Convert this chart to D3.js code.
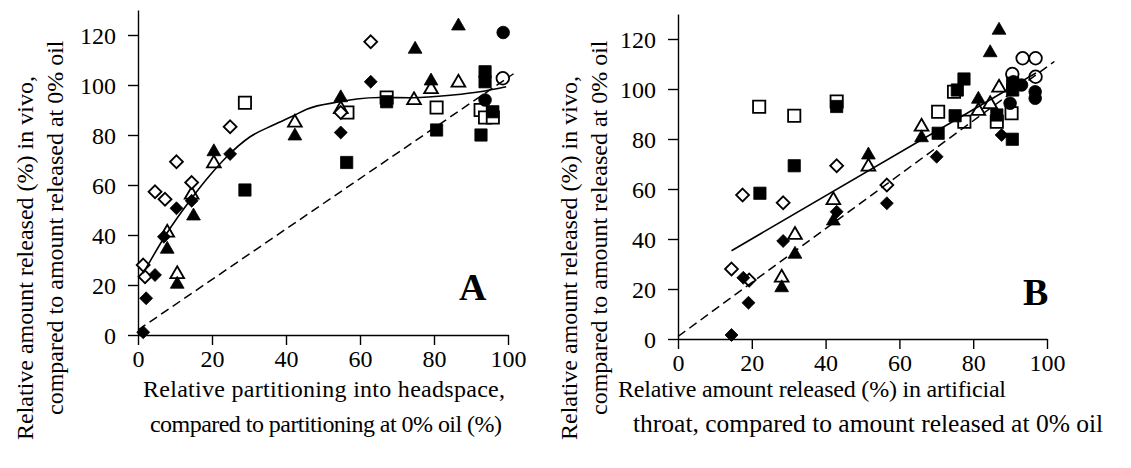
<!DOCTYPE html>
<html><head><meta charset="utf-8">
<script src="https://cdn.jsdelivr.net/npm/d3@7"></script>
<style>body{margin:0;background:#fff}svg{display:block}text{font-family:"Liberation Serif","Times New Roman",serif;fill:#000}</style>
</head><body>
<script>
// ---------- data ----------
const xTicks = [0, 20, 40, 60, 80, 100];
const yTicks = [0, 20, 40, 60, 80, 100, 120];

// Panel A
const aOpenDiamond   = [[62.9,117.3],[24.9,83.3],[10.4,69.3],[14.5,61],[4.6,57.3],[7.3,54.3],[1.4,28],[1.9,23.3],[54.8,89]];
const aFilledDiamond = [[62.9,101.3],[24.9,72.4],[54.8,81],[10.4,50.7],[14.5,53.7],[7,39.3],[4.6,24],[2.2,14.7],[1.4,1.1]];
const aOpenTriangle  = [[20.5,69],[42.4,85.3],[54.8,90.7],[14.5,56.5],[7.9,41.3],[10.6,24.7],[79.2,98.7],[86.6,101.3],[74.6,94.3]];
const aFilledTriangle= [[20.5,73.7],[42.4,80],[54.8,95.3],[15,48],[7.9,34.7],[10.6,20.7],[86.6,124],[74.9,114.7],[79.2,102]];
const aOpenSquare    = [[28.9,92.9],[56.6,89],[67.2,95],[80.7,91],[92.6,90],[93.8,87],[95.9,87]];
const aFilledSquare  = [[56.4,69],[28.9,58],[67.2,93.3],[80.7,82],[92.7,80],[93.8,105.3],[93.8,101.3],[95.9,89.3]];
const aOpenCircle    = [[98.6,102.7]];
const aFilledCircle  = [[98.7,121],[93.8,94]];
const aCurve  = [[1.4,24.7],[7.8,40.7],[14.5,54.7],[19.5,64],[24,71.3],[30.3,79.3],[36.6,84],[42.4,88],[45.6,90.3],[54.6,93.3],[59.1,94.4],[65.4,95],[74.3,94.9],[85.1,96],[92.4,97.3],[99.5,99.3]];
const aDashed = [[0,2],[101.5,104.5]];

// Panel B
const bOpenDiamond   = [[43,69.3],[17.5,57.6],[28.5,54.5],[56.6,61.6],[14.5,28],[19.3,23.6]];
const bFilledDiamond = [[43,50.9],[56.6,54.3],[28.5,39.2],[17.7,24.5],[19.1,14.5],[14.5,1.6],[70.1,72.9],[87.7,81.6]];
const bOpenTriangle  = [[51.6,69.3],[42.1,55.9],[31.7,42],[28.1,24.9],[87,100.9],[81.4,91.6],[84.6,94.3],[66,85.3]];
const bFilledTriangle= [[51.6,74],[42.1,47.6],[31.7,34.3],[28.1,20.9],[87,123.9],[84.6,114.9],[81.4,96.3],[66,80.9]];
const bOpenSquare    = [[22,92.9],[31.5,89.3],[43,95],[74.8,98.9],[70.5,90.9],[77.6,86.9],[86.4,86.9],[90.4,90.3]];
const bFilledSquare  = [[43,93],[31.5,69.3],[22.2,58.3],[90.7,102.3],[90.7,99.6],[77.5,104],[75.7,99.6],[75.1,89.3],[86.4,89.6],[70.5,82.3],[90.6,79.9]];
const bOpenCircle    = [[93.4,112.3],[96.9,112.3],[90.6,106],[96.9,104.9]];
const bFilledCircle  = [[90.9,102.9],[93.1,101.6],[96.8,98.9],[96.8,96.3],[90,94.3]];
const bFit    = [[14.5,35.3],[97,106.4]];
const bDashed = [[0,1],[102,111]];

// ---------- drawing ----------
const W = 1131, H = 468;
const FS = "24px";
const svg = d3.select("body").append("svg").attr("width", W).attr("height", H);

const diamondType = {draw(ctx, size){ const r = Math.sqrt(size/2); ctx.moveTo(0,-r); ctx.lineTo(r,0); ctx.lineTo(0,r); ctx.lineTo(-r,0); ctx.closePath(); }};
const sym = {
  diamond: d3.symbol().type(diamondType).size(84),
  triangle: d3.symbol().type(d3.symbolTriangle).size(82),
  square: d3.symbol().type(d3.symbolSquare).size(150),
  circle: d3.symbol().type(d3.symbolCircle).size(125)
};

function panel(cfg){
  const x = d3.scaleLinear().domain([0,100]).range(cfg.xr);
  const y = d3.scaleLinear().domain([0,130]).range(cfg.yr);
  const g = svg.append("g");

  const ax = g.append("g").attr("transform", `translate(0,${y(0)})`)
    .call(d3.axisBottom(x).tickValues(xTicks).tickSize(10).tickSizeOuter(0).tickPadding(5));
  const ay = g.append("g").attr("transform", `translate(${x(0)},0)`)
    .call(d3.axisLeft(y).tickValues(yTicks).tickSize(10).tickSizeOuter(0).tickPadding(12));
  [ax, ay].forEach(a => {
    a.attr("font-family", null).attr("font-size", null);
    a.select(".domain").attr("stroke","#000").attr("stroke-width",1.4);
    a.selectAll(".tick line").attr("stroke","#000").attr("stroke-width",1.4);
    a.selectAll(".tick text").style("font-family",'"Liberation Serif",serif').style("font-size",FS).attr("fill","#000");
  });
  ay.selectAll(".tick text").attr("dy","0.34em");
  ax.selectAll(".tick text").attr("dy","0.72em");

  cfg.series.forEach(s => {
    g.append("g").selectAll("path").data(s.data).join("path")
      .attr("d", sym[s.shape])
      .attr("transform", d => `translate(${x(d[0])},${y(d[1]) + (s.shape==="triangle"?1:0)})`)
      .attr("fill", s.filled ? "#000" : (s.shape==="circle" ? "none" : "#fff"))
      .attr("stroke", "#000")
      .attr("stroke-width", s.filled ? 0.8 : 1.8);
  });

  const line = d3.line().x(d => x(d[0])).y(d => y(d[1]));
  g.append("path").datum(cfg.dashed).attr("d", line)
    .attr("fill","none").attr("stroke","#000").attr("stroke-width",1.5).attr("stroke-dasharray","9,5");
  g.append("path").datum(cfg.fit).attr("d", line.curve(cfg.curve))
    .attr("fill","none").attr("stroke","#000").attr("stroke-width",1.6);

  g.append("text").attr("x", cfg.letter[0]).attr("y", cfg.letter[1])
    .style("font-size","38px").style("font-weight","bold").text(cfg.letterText);

  cfg.ylab.forEach(l => {
    g.append("text").attr("transform", `translate(${l[0]},${l[1]}) rotate(-90)`)
      .style("font-size",FS).text(l[2]);
  });
  cfg.xlab.forEach(l => {
    const t = g.append("text").attr("x", l[0]).attr("y", l[1]).attr("text-anchor", l[3])
      .style("font-size", l[5] || FS).text(l[2]);
    if (l[4]) t.attr("textLength", l[4]).attr("lengthAdjust","spacing");
  });
}

panel({
  xr:[138,508], yr:[335,10],
  series:[
    {data:aOpenSquare, shape:"square", filled:false},
    {data:aFilledSquare, shape:"square", filled:true},
    {data:aOpenCircle, shape:"circle", filled:false},
    {data:aFilledCircle, shape:"circle", filled:true},
    {data:aOpenTriangle, shape:"triangle", filled:false},
    {data:aFilledTriangle, shape:"triangle", filled:true},
    {data:aOpenDiamond, shape:"diamond", filled:false},
    {data:aFilledDiamond, shape:"diamond", filled:true}
  ],
  dashed:aDashed, fit:aCurve, curve:d3.curveMonotoneX,
  letter:[459,300], letterText:"A",
  ylab:[[33,440,"Relative amount released (%) in vivo,"],[63,415,"compared to amount released at 0% oil"]],
  xlab:[[143,397,"Relative partitioning into headspace,","start",362],[150,432,"compared to partitioning at 0% oil (%)","start",352]]
});

panel({
  xr:[678,1047], yr:[339,14],
  series:[
    {data:bOpenSquare, shape:"square", filled:false},
    {data:bFilledSquare, shape:"square", filled:true},
    {data:bOpenCircle, shape:"circle", filled:false},
    {data:bFilledCircle, shape:"circle", filled:true},
    {data:bOpenTriangle, shape:"triangle", filled:false},
    {data:bFilledTriangle, shape:"triangle", filled:true},
    {data:bOpenDiamond, shape:"diamond", filled:false},
    {data:bFilledDiamond, shape:"diamond", filled:true}
  ],
  dashed:bDashed, fit:bFit, curve:d3.curveLinear,
  letter:[1023,305], letterText:"B",
  ylab:[[577,440,"Relative amount released (%) in vivo,"],[607,415,"compared to amount released at 0% oil"]],
  xlab:[[618,397,"Relative amount released (%) in artificial","start",388],[633,432,"throat, compared to amount released at 0% oil","start",0,"25.5px"]]
});
</script>
</body></html>
